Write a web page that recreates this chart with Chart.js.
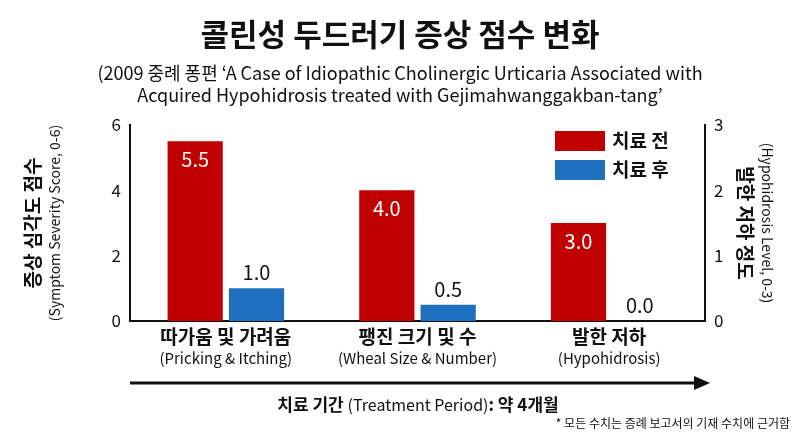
<!DOCTYPE html>
<html><head><meta charset="utf-8">
<script src="https://cdn.jsdelivr.net/npm/chart.js@4"></script>
<style>html,body{margin:0;background:#fff}#wrap{width:800px;height:436px}</style>
</head><body><div id="wrap"><canvas id="c"></canvas></div>
<script>
// chart data
const categoriesKo = ['따가움 및 가려움', '팽진 크기 및 수', '발한 저하'];
const categoriesEn = ['(Pricking & Itching)', '(Wheal Size & Number)', '(Hypohidrosis)'];
const beforeScores = [5.5, 4.0, 3.0];
const afterScores = [1.0, 0.5, 0.0];
const leftTicks = [0, 2, 4, 6];
const rightTicks = [0, 1, 2, 3];

const F = "'Noto Sans CJK KR', 'Noto Sans', sans-serif";
const RED = '#c00000', BLUE = '#1f6fbf';

const decor = {
  id: 'decor',
  afterDatasetsDraw(chart) {
    const ctx = chart.ctx, x = chart.scales.x, a = chart.chartArea;
    ctx.save();
    ctx.textAlign = 'center';
    ctx.fillStyle = '#111';
    ctx.font = `bold 31px ${F}`;
    ctx.fillText('콜린성 두드러기 증상 점수 변화', 400, 46);
    ctx.font = `18px ${F}`;
    ctx.fillText('(2009 중례 퐁편 ‘A Case of Idiopathic Cholinergic Urticaria Associated with', 400, 80);
    ctx.fillText('Acquired Hypohidrosis treated with Gejimahwanggakban-tang’', 400, 102);

    // value labels
    chart.getDatasetMeta(0).data.forEach((b, i) => {
      ctx.fillStyle = '#fff'; ctx.font = `20px ${F}`;
      ctx.fillText(beforeScores[i].toFixed(1), b.x, b.y + 26);
    });
    chart.getDatasetMeta(1).data.forEach((b, i) => {
      ctx.fillStyle = '#111'; ctx.font = `20px ${F}`;
      ctx.fillText(afterScores[i].toFixed(1), b.x, b.y - 8);
    });

    // category labels
    categoriesKo.forEach((c, i) => {
      const cx = x.getPixelForValue(i);
      ctx.fillStyle = '#111';
      ctx.font = `bold 19px ${F}`; ctx.fillText(c, cx, 344);
      ctx.font = `15px ${F}`; ctx.fillText(categoriesEn[i], cx, 364);
    });

    // axis titles
    ctx.save(); ctx.translate(40, (a.top + a.bottom) / 2); ctx.rotate(-Math.PI / 2);
    ctx.font = `bold 19px ${F}`; ctx.fillText('증상 심각도 점수', 0, 0);
    ctx.font = `14px ${F}`; ctx.fillText('(Symptom Severity Score, 0-6)', 0, 20);
    ctx.restore();
    ctx.save(); ctx.translate(738, (a.top + a.bottom) / 2); ctx.rotate(Math.PI / 2);
    ctx.font = `bold 19px ${F}`; ctx.fillText('발한 저하 정도', 0, 0);
    ctx.font = `14px ${F}`; ctx.fillText('(Hypohidrosis Level, 0-3)', 0, -24);
    ctx.restore();

    // legend
    ctx.textAlign = 'left';
    ctx.fillStyle = RED; ctx.fillRect(555, 131, 50, 20);
    ctx.fillStyle = BLUE; ctx.fillRect(555, 160, 50, 20);
    ctx.fillStyle = '#111'; ctx.font = `bold 19px ${F}`;
    ctx.fillText('치료 전', 612, 148); ctx.fillText('치료 후', 612, 177);

    // arrow
    ctx.strokeStyle = '#111'; ctx.lineWidth = 3;
    ctx.beginPath(); ctx.moveTo(130, 383); ctx.lineTo(696, 383); ctx.stroke();
    ctx.beginPath(); ctx.moveTo(710, 383); ctx.lineTo(694, 376); ctx.lineTo(694, 390); ctx.closePath(); ctx.fill();
    const t1 = '치료 기간 ', t2 = '(Treatment Period)', t3 = ': 약 4개월';
    ctx.font = `bold 17px ${F}`; const w1 = ctx.measureText(t1).width, w3 = ctx.measureText(t3).width;
    ctx.font = `16px ${F}`; const w2 = ctx.measureText(t2).width;
    let sx = 418 - (w1 + w2 + w3) / 2; ctx.textAlign = 'left';
    ctx.font = `bold 17px ${F}`; ctx.fillText(t1, sx, 411);
    ctx.font = `16px ${F}`; ctx.fillText(t2, sx + w1, 411);
    ctx.font = `bold 17px ${F}`; ctx.fillText(t3, sx + w1 + w2, 411);
    ctx.textAlign = 'right'; ctx.font = `12px ${F}`;
    ctx.fillText('* 모든 수치는 증례 보고서의 기재 수치에 근거함', 790, 428);
    ctx.restore();
  }
};

new Chart(document.getElementById('c'), {
  type: 'bar',
  data: {
    labels: categoriesKo,
    datasets: [
      { label: '치료 전', data: beforeScores, backgroundColor: RED, yAxisID: 'y' },
      { label: '치료 후', data: afterScores, backgroundColor: BLUE, yAxisID: 'y' }
    ]
  },
  options: {
    responsive: true, maintainAspectRatio: false, animation: false,
    layout: { padding: { top: 125, left: 0, right: 0, bottom: 0 } },
    categoryPercentage: 0.64, barPercentage: 0.9,
    plugins: { legend: { display: false }, tooltip: { enabled: false } },
    scales: {
      x: {
        grid: { display: false, drawTicks: false },
        border: { color: '#111', width: 2 },
        ticks: { display: false },
        afterFit: s => { s.height = 115; }
      },
      y: {
        min: 0, max: 6,
        afterBuildTicks: s => { s.ticks = leftTicks.map(v => ({ value: v })); },
        grid: { display: false, drawTicks: true, tickLength: 6, tickColor: '#111' },
        border: { color: '#111', width: 2 },
        ticks: { color: '#111', font: { size: 17, family: F } },
        afterFit: s => { s.width = 130; }
      },
      y2: {
        position: 'right', min: 0, max: 3,
        afterBuildTicks: s => { s.ticks = rightTicks.map(v => ({ value: v })); },
        grid: { display: false, drawTicks: true, tickLength: 6, tickColor: '#111' },
        border: { color: '#111', width: 2 },
        ticks: { color: '#111', font: { size: 17, family: F } },
        afterFit: s => { s.width = 95; }
      }
    }
  },
  plugins: [decor]
});
</script></body></html>
